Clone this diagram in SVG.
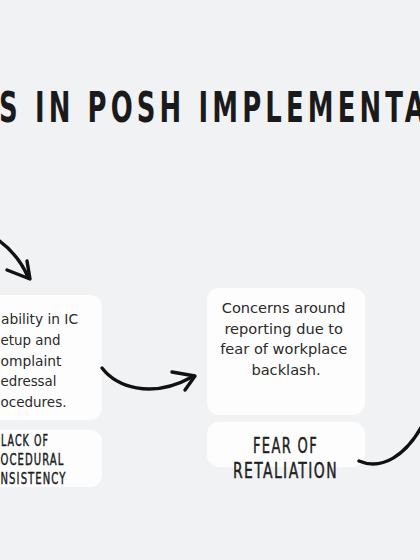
<svg xmlns="http://www.w3.org/2000/svg" width="420" height="560" viewBox="0 0 420 560">
<style>
.box{fill:#fdfdfd;}
.body{font-family:"DejaVu Sans",sans-serif;font-size:14.6px;fill:#2a2a2a;}
.cap{font-family:"Liberation Sans Narrow","DejaVu Sans Condensed",sans-serif;fill:#1e1e1e;stroke:#1e1e1e;stroke-width:0.45;}
.title{font-family:"Liberation Sans Narrow","DejaVu Sans Condensed",sans-serif;font-weight:bold;font-size:42px;fill:#1a1a1a;}
.conn path{fill:none;stroke:#111;stroke-width:3.4;stroke-linecap:round;stroke-linejoin:round;}
</style>
<rect width="420" height="560" fill="#f1f2f4"/>
<g id="title">
<text class="title" x="-1" y="122" textLength="430" lengthAdjust="spacingAndGlyphs" letter-spacing="6">S IN POSH IMPLEMENTA</text>
</g>
<g id="node-variability">
<rect class="box" x="-20" y="295" width="122" height="125" rx="12"/>
<text class="body">
<tspan x="1" y="324" textLength="77" lengthAdjust="spacingAndGlyphs">ability in IC</tspan>
<tspan x="0.5" y="345" textLength="60" lengthAdjust="spacingAndGlyphs">etup and</tspan>
<tspan x="0.5" y="366" textLength="61" lengthAdjust="spacingAndGlyphs">omplaint</tspan>
<tspan x="0.5" y="386" textLength="56" lengthAdjust="spacingAndGlyphs">edressal</tspan>
<tspan x="0.5" y="407" textLength="66" lengthAdjust="spacingAndGlyphs">ocedures.</tspan>
</text>
</g>
<g id="node-lack">
<rect class="box" x="-20" y="430" width="122" height="57" rx="12"/>
<text class="cap" font-size="15" letter-spacing="1.5">
<tspan x="1" y="446" textLength="48" lengthAdjust="spacingAndGlyphs">LACK OF</tspan>
<tspan x="0.5" y="465" textLength="64" lengthAdjust="spacingAndGlyphs">OCEDURAL</tspan>
<tspan x="0.5" y="484" textLength="66" lengthAdjust="spacingAndGlyphs">NSISTENCY</tspan>
</text>
</g>
<g id="node-concerns">
<rect class="box" x="207" y="288" width="158" height="127" rx="12"/>
<text class="body" text-anchor="middle">
<tspan x="286" y="313">Concerns around</tspan>
<tspan x="286" y="334">reporting due to</tspan>
<tspan x="286" y="354">fear of workplace</tspan>
<tspan x="286" y="375">backlash.</tspan>
</text>
</g>
<g id="node-fear">
<rect class="box" x="207" y="422" width="158" height="45" rx="12"/>
<text class="cap" font-size="22" letter-spacing="2">
<tspan x="253" y="453" textLength="65" lengthAdjust="spacingAndGlyphs">FEAR OF</tspan>
<tspan x="233" y="478" textLength="105" lengthAdjust="spacingAndGlyphs">RETALIATION</tspan>
</text>
</g>
<g id="connectors" class="conn">
<path d="M -2 240 Q 18 254 28 277"/>
<path d="M 7 270 L 30 279 L 27 261"/>
<path d="M 102 368 C 116 386 150 400 192 377"/>
<path d="M 172 372 L 195 376 L 185 390"/>
<path d="M 359 461 C 382 471 406 455 422 426"/>
</g>
</svg>
